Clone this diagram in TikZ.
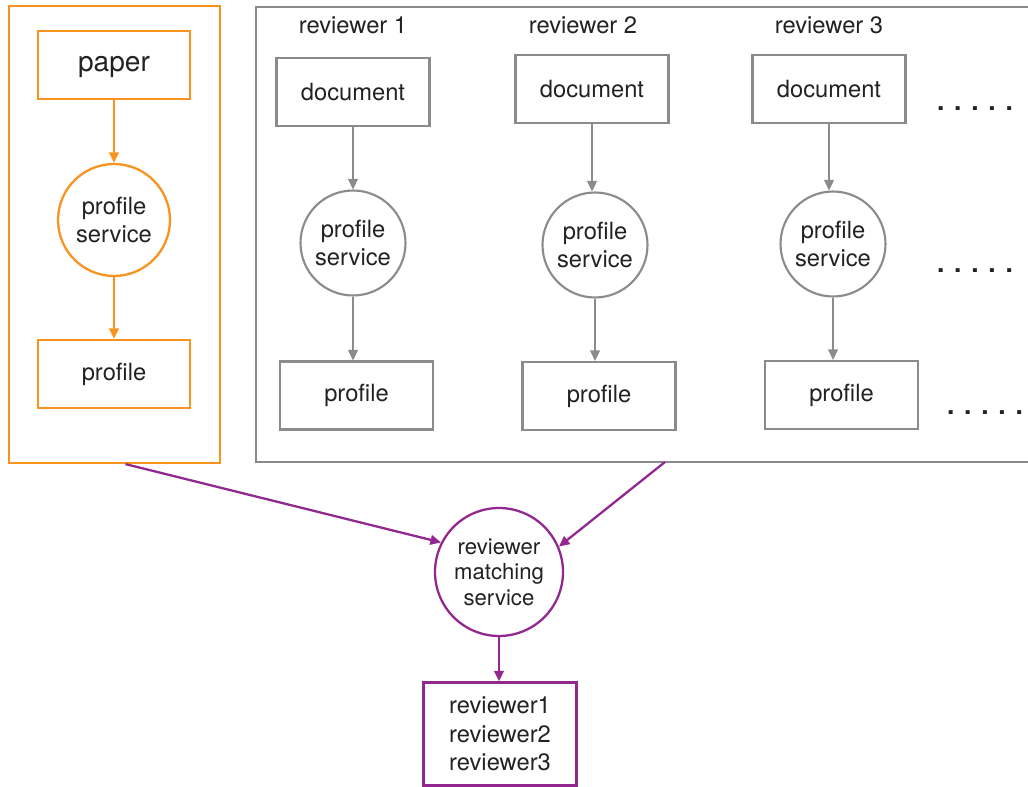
\documentclass[tikz,border=0pt]{standalone}
\usepackage{fontspec}
\setmainfont{TeX Gyre Heros}
\usetikzlibrary{arrows.meta}
\definecolor{oc}{HTML}{F7931E}
\definecolor{gc}{HTML}{8A8A8F}
\definecolor{pc}{HTML}{92278F}
\definecolor{tc}{HTML}{222222}
\tikzset{
  txt/.style={text=tc,font=\fontsize{13.5}{16}\selectfont,align=center,inner sep=0pt},
  obox/.style={txt,draw=oc,line width=1.3pt,minimum width=3.04cm,minimum height=1.36cm},
  ocirc/.style={txt,draw=oc,line width=1.3pt,circle,minimum size=2.24cm},
  gbox/.style={txt,draw=gc,line width=1.2pt,minimum width=3.06cm,minimum height=1.36cm},
  gcirc/.style={txt,draw=gc,line width=1.2pt,circle,minimum size=2.1cm},
  pcirc/.style={txt,draw=pc,line width=1.3pt,circle,minimum size=2.56cm,font=\fontsize{12.6}{14.6}\selectfont},
  pbox/.style={txt,draw=pc,line width=1.3pt,minimum width=3.06cm,minimum height=2.06cm},
  oarrow/.style={draw=oc,line width=1.3pt,-{Triangle[length=6pt,width=5.5pt]}},
  garrow/.style={draw=gc,line width=1.2pt,-{Triangle[length=6pt,width=5.5pt]}},
  parrow/.style={draw=pc,line width=1.3pt,-{Triangle[length=6pt,width=5.5pt]}},
  dots/.style={text=tc,font=\fontsize{15}{18}\selectfont\bfseries,inner sep=0pt,anchor=base},
}
\begin{document}
\begin{tikzpicture}[x=0.02cm,y=-0.02cm]
\useasboundingbox[fill=white] (0,0) rectangle (1028,787);
% left orange frame
\node[draw=oc,line width=1.3pt,minimum width=4.22cm,minimum height=9.14cm,inner sep=0pt] (lframe) at (114.5,234.5) {};
\node[obox,font=\fontsize{16}{18}\selectfont,text depth=0.05cm] (paper) at (114,65) {paper};
\node[ocirc] (ops) at (114,220) {profile\\service};
\node[obox] (oprof) at (114,374) {profile};
\draw[oarrow] (paper) -- (ops);
\draw[oarrow] (ops) -- (oprof);
% right gray frame (open on the right)
\draw[gc,line width=1.2pt] (1030,7) -- (256,7) -- (256,462) -- (1030,462);
\coordinate (gframe) at (665,462);
\node[txt] (r1) at (353,25) {reviewer 1};
\node[txt] (r2) at (583,25) {reviewer 2};
\node[txt] (r3) at (829,25) {reviewer 3};
\node[gbox] (d1) at (353,92) {document};
\node[gbox] (d2) at (592,89) {document};
\node[gbox] (d3) at (829,89) {document};
\node[gcirc] (c1) at (353,243) {profile\\service};
\node[gcirc] (c2) at (595,245) {profile\\service};
\node[gcirc] (c3) at (833,244) {profile\\service};
\node[gbox] (p1) at (356.5,395.5) {profile};
\node[gbox] (p2) at (599,396) {profile};
\node[gbox] (p3) at (841.5,395) {profile};
\draw[garrow] (d1.south) -- (d1.south |- c1.north);
\draw[garrow] (d2.south) -- (d2.south |- c2.north);
\draw[garrow] (d3.south) -- (d3.south |- c3.north);
\draw[garrow] (c1.south) -- (c1.south |- p1.north);
\draw[garrow] (c2.south) -- (c2.south |- p2.north);
\draw[garrow] (c3.south) -- (c3.south |- p3.north);
\node[dots] (dt1) at (975,111) {. . . . .};
\node[dots] (dt2) at (975,273) {. . . . .};
\node[dots] (dt3) at (985,414) {. . . . .};
% matching
\node[pcirc] (match) at (499,572) {reviewer\\matching\\service};
\node[pbox,font=\fontsize{13.5}{16.2}\selectfont] (res) at (500,734) {reviewer1\\reviewer2\\reviewer3};
\draw[parrow] ([xshift=0.22cm]lframe.south) -- (match.153);
\draw[parrow] (gframe) -- (match.23);
\draw[parrow] (match.south) -- (match.south |- res.north);
\end{tikzpicture}
\end{document}
